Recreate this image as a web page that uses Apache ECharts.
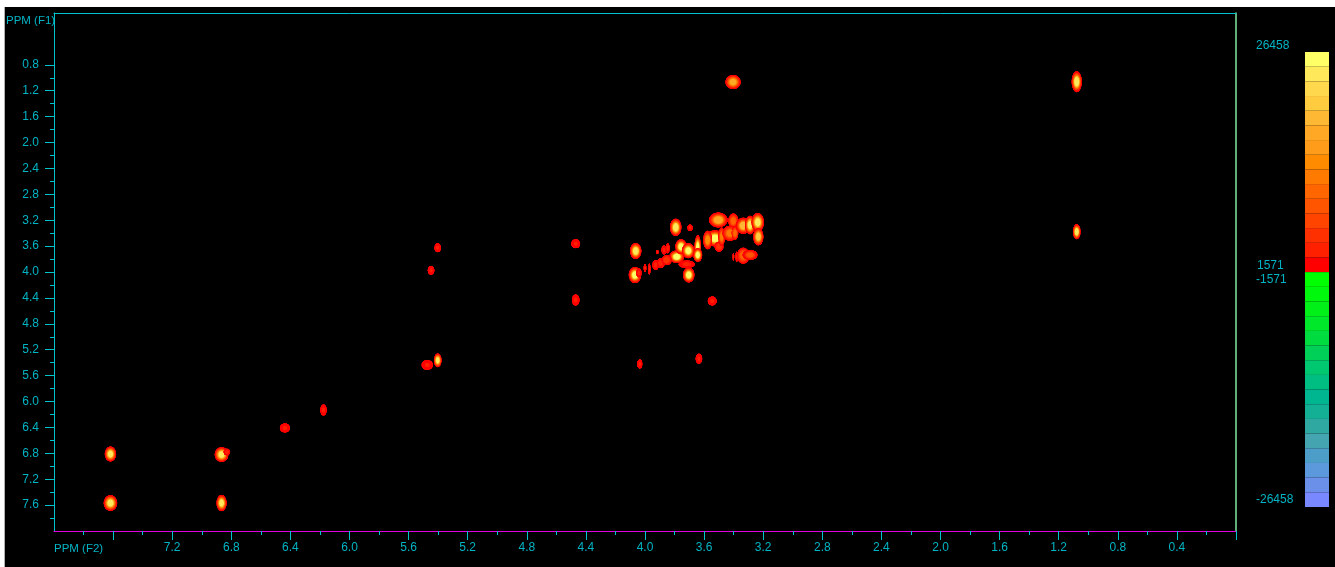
<!DOCTYPE html>
<html>
<head>
<meta charset="utf-8">
<style>
html,body{margin:0;padding:0;background:#fff;width:1335px;height:567px;overflow:hidden}
#back{position:absolute;left:4px;top:7px;width:1331px;height:560px;background:#000;border-left:1px solid #b0b0b0;box-sizing:border-box}
#main{position:absolute;left:0;top:0;width:1335px;height:567px}
</style>
<script src="https://cdn.jsdelivr.net/npm/echarts@6/dist/echarts.min.js"></script>
</head>
<body>
<div id="back"></div>
<div id="main"></div>
<script>
// Peak table, ppm on both axes; widths are peak extents in ppm; intensity in instrument counts
const peakF2 = [7.618,7.618,6.866,6.83,6.866,6.437,6.176,5.474,5.403,5.448,5.403,4.469,4.469,4.036,3.635,3.545,3.404,1.078,1.078,
  4.063,4.068,4.041,3.792,3.695,3.704,3.785,3.756,3.707,3.643,3.643,4.0,3.971,3.928,3.892,3.853,3.917,3.871,3.846,3.718,
  3.504,3.402,3.438,3.526,3.576,3.499,3.481,3.425,3.391,3.335,3.289,3.237,3.233,3.402,3.379,3.335,3.289];
const peakF1 = [6.811,7.568,6.819,6.78,7.568,6.409,6.131,5.436,5.364,3.974,3.625,3.563,4.432,5.421,5.339,4.448,1.066,1.061,3.378,
  3.676,4.046,4.015,3.31,3.316,4.046,3.764,3.609,3.671,3.629,3.737,3.938,3.954,3.892,3.861,3.815,3.691,3.66,3.634,3.881,
  3.197,3.212,3.197,3.48,3.506,3.609,3.455,3.402,3.398,3.285,3.274,3.232,3.455,3.764,3.764,3.748,3.737];
const peakWidthF2 = [.068,.08,.081,.041,.061,.061,.041,.068,.047,.041,.041,.054,.047,.034,.041,.054,.09,.061,.047,
  .068,.074,.034,.068,.034,.068,.088,.068,.074,.041,.054,.02,.02,.041,.047,.061,.02,.034,.027,.095,
  .108,.061,.014,.12,.054,.054,.041,.088,.041,.088,.061,.074,.061,.014,.02,.074,.088];
const peakWidthF1 = [.2,.21,.2,.093,.216,.124,.154,.139,.185,.124,.124,.124,.154,.124,.139,.124,.19,.278,.201,
  .216,.216,.124,.232,.093,.201,.17,.201,.201,.34,.185,.108,.154,.139,.139,.139,.062,.124,.139,.108,
  .2,.2,.062,.216,.247,.139,.247,.201,.185,.216,.247,.247,.232,.108,.139,.216,.139];
const peakIntensity = [24000,24000,24000,3000,24000,2500,2500,2500,24000,2500,2500,2500,2500,2500,2500,2500,17000,25000,25000,
  25000,26000,3000,25000,2500,26000,26458,26000,26000,26000,26000,2500,2500,3000,4000,5000,2500,2500,3000,3000,
  18000,10000,2500,26000,14000,5000,12000,13000,11000,20000,24000,24000,22000,2500,2500,11000,8000];

const f2Labels = [7.2,6.8,6.4,6.0,5.6,5.2,4.8,4.4,4.0,3.6,3.2,2.8,2.4,2.0,1.6,1.2,0.8,0.4];
const f2MajorTicks = [7.6,7.2,6.8,6.4,6.0,5.6,5.2,4.8,4.4,4.0,3.6,3.2,2.8,2.4,2.0,1.6,1.2,0.8,0.4,0];
const f2MinorTicks = [7.8,7.4,7.0,6.6,6.2,5.8,5.4,5.0,4.6,4.2,3.8,3.4,3.0,2.6,2.2,1.8,1.4,1.0,0.6,0.2];
const f1Labels = [0.8,1.2,1.6,2.0,2.4,2.8,3.2,3.6,4.0,4.4,4.8,5.2,5.6,6.0,6.4,6.8,7.2,7.6];
const f1MinorTicks = [1.0,1.4,1.8,2.2,2.6,3.0,3.4,3.8,4.2,4.6,5.0,5.4,5.8,6.2,6.6,7.0,7.4,7.8];

const positiveLevels = ['#ffff66','#ffe85a','#ffd84d','#ffcc40','#ffb833','#ffa826','#ff9c1a','#ff8c00','#ff7a00','#ff6600','#ff5500','#ff4400','#ff3000','#ff2000','#ff0000'];
const negativeLevels = ['#00ff00','#00f80c','#00f018','#00e82a','#00dc40','#00d058','#00c870','#00be82','#00b690','#14b096','#2ea8a0','#44a4b0','#4c9ec8','#5c98dc','#6a90ea','#7a88ff'];
const colorScaleLabels = ['26458','1571','-1571','-26458'];
const axisTitleF1 = 'PPM (F1)';
const axisTitleF2 = 'PPM (F2)';

const MAX_LEVEL = 26458, MIN_LEVEL = 1571, PEAK_SCALE = 1.22;
const TEXT = '#00b4c4', FRAME = '#00c4cc', FONT = '"Liberation Sans", Arial, sans-serif';

function levelColor(v){
  const t = Math.max(0, Math.min(1, (v - MIN_LEVEL) / (MAX_LEVEL - MIN_LEVEL)));
  const i = Math.round((1 - t) * (positiveLevels.length - 1));
  return positiveLevels[i];
}
function peakFill(intensity){
  const stops = [];
  for (const r of [0,.2,.35,.45,.55,.65,.75,.85]) {
    const k = Math.min(1, (.95 - r) / .55);
    stops.push({offset:r, color:levelColor(MIN_LEVEL + (intensity - MIN_LEVEL) * k * k)});
  }
  stops.push({offset:.96, color:'#ff0000'});
  stops.push({offset:1, color:'rgba(255,0,0,0)'});
  return new echarts.graphic.RadialGradient(0.5,0.5,0.5,stops);
}
const peaks = peakF2.map((x,i)=>[x,peakF1[i],peakWidthF2[i],peakWidthF1[i],peakIntensity[i]]);

function renderPeak(params, api){
  const c = api.coord([api.value(0), api.value(1)]);
  const s = api.size([api.value(2), api.value(3)]);
  const rx = s[0]/2*PEAK_SCALE, ry = s[1]/2*PEAK_SCALE;
  return {
    type:'circle',
    x:c[0], y:c[1],
    scaleX:1, scaleY:ry/rx,
    shape:{cx:0,cy:0,r:rx},
    style:{fill:peakFill(api.value(4)), blend:'lighter'},
    silent:true
  };
}
const axisBase = {type:'value', min:0, max:8, inverse:true, splitLine:{show:false}, gridIndex:0};
const line = (color,width)=>({show:true, onZero:false, lineStyle:{color, width}});
const tick = (vals,len)=>({show:true, customValues:vals, length:len, inside:false, lineStyle:{color:FRAME, width:1}});
const label = {color:TEXT, fontFamily:FONT, fontSize:12};
const fmt = v => Number(v).toFixed(1);

const levels = positiveLevels.concat(negativeLevels);
const chart = echarts.init(document.getElementById('main'), null, {renderer:'canvas'});
chart.setOption({
  animation:false,
  backgroundColor:'transparent',
  grid:[
    {left:54, top:13, width:1182, height:518},
    {left:1305, top:52, width:24, height:455}
  ],
  xAxis:[
    {...axisBase, position:'bottom', axisLine:line('#e000e0',1),
      axisTick:tick(f2MajorTicks,9), axisLabel:{...label, show:true, margin:11, customValues:f2Labels, formatter:fmt}},
    {...axisBase, position:'bottom', axisLine:{show:false, onZero:false}, axisTick:tick(f2MinorTicks,4), axisLabel:{show:false}},
    {...axisBase, position:'top', axisLine:line(FRAME,1), axisTick:{show:false}, axisLabel:{show:false}},
    {type:'value', gridIndex:1, min:0, max:1, show:false}
  ],
  yAxis:[
    {...axisBase, position:'left', axisLine:line(FRAME,1),
      axisTick:tick(f1Labels,9), axisLabel:{...label, show:true, margin:15, padding:[0,0,6,0], customValues:f1Labels, formatter:fmt}},
    {...axisBase, position:'left', axisLine:{show:false, onZero:false}, axisTick:tick(f1MinorTicks,4), axisLabel:{show:false}},
    {...axisBase, position:'right', axisLine:line('#80e8a0',1.5), axisTick:{show:false}, axisLabel:{show:false}},
    {type:'category', gridIndex:1, inverse:true, data:levels.map((c,i)=>i), show:false}
  ],
  series:[
    {type:'custom', name:'peaks', coordinateSystem:'cartesian2d', xAxisIndex:0, yAxisIndex:0, clip:true, silent:true,
      data:peaks, encode:{x:0,y:1}, renderItem:renderPeak},
    {type:'bar', name:'scale', xAxisIndex:3, yAxisIndex:3, barWidth:'100%', silent:true,
      data:levels.map(c=>({value:1, itemStyle:{color:c}}))}
  ],
  graphic:[
    {type:'text', x:6, y:15, style:{text:axisTitleF1, fill:TEXT, font:'11.5px '+FONT}},
    {type:'text', x:54, y:543, style:{text:axisTitleF2, fill:TEXT, font:'11.5px '+FONT}},
    {type:'text', x:1256, y:39.5, style:{text:colorScaleLabels[0], fill:TEXT, font:'12px '+FONT}},
    {type:'text', x:1257, y:259.5, style:{text:colorScaleLabels[1], fill:TEXT, font:'12px '+FONT}},
    {type:'text', x:1256, y:273.5, style:{text:colorScaleLabels[2], fill:TEXT, font:'12px '+FONT}},
    {type:'text', x:1256, y:493.5, style:{text:colorScaleLabels[3], fill:TEXT, font:'12px '+FONT}}
  ]
});
</script>
</body>
</html>
